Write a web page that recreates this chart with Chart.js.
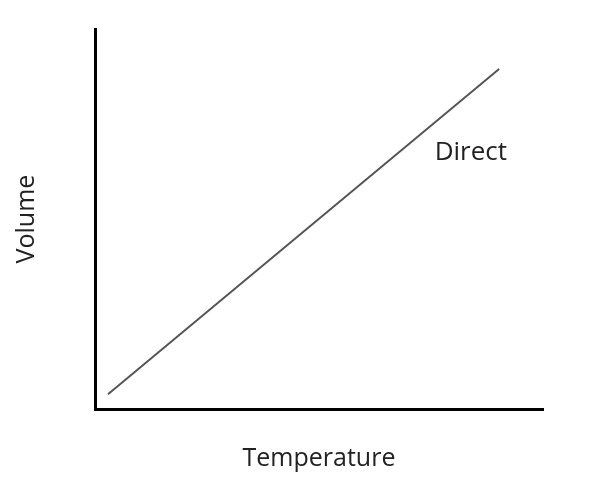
<!DOCTYPE html>
<html>
<head>
<meta charset="utf-8">
<script src="https://cdn.jsdelivr.net/npm/chart.js@4/dist/chart.umd.min.js"></script>
<style>
  html, body { margin: 0; padding: 0; background: #fff; }
  #wrap { width: 593px; height: 499px; }
</style>
</head>
<body>
<div id="wrap"><canvas id="myChart" width="593" height="499"></canvas></div>
<script>
//temperature / volume points of the line
var temperature = [2.9, 90.2];
var volume = [3.9, 89.5];

//label written next to the line
var lineLabel = "Direct";
var labelPos = [83.9, 67.6];

var xTitle = "Temperature";
var yTitle = "Volume";

var points = [];
for (var i = 0; i < temperature.length; i++) {
  points.push({ x: temperature[i], y: volume[i] });
}

//draws the "Direct" text at data coordinates
var labelPlugin = {
  id: "lineLabel",
  afterDatasetsDraw: function (chart) {
    var c = chart.ctx;
    var px = chart.scales.x.getPixelForValue(labelPos[0]);
    var py = chart.scales.y.getPixelForValue(labelPos[1]);
    c.save();
    c.fillStyle = "#222";
    c.font = "26px 'Open Sans'";
    c.textAlign = "center";
    c.textBaseline = "middle";
    c.fillText(lineLabel, px, py);
    c.restore();
  }
};

var ctx = document.getElementById("myChart");
var myChart = new Chart(ctx, {
  type: "scatter",
  data: {
    datasets: [{
      data: points,
      showLine: true,
      borderColor: "#555",
      borderWidth: 2,
      pointRadius: 0,
      fill: false
    }]
  },
  options: {
    responsive: false,
    animation: false,
    layout: { padding: { left: 12, right: 50, top: 29, bottom: 25 } },
    plugins: { legend: { display: false }, tooltip: { enabled: false } },
    scales: {
      x: {
        min: 0, max: 100,
        grid: { display: false },
        ticks: { display: false },
        border: { display: true, color: "#000", width: 3 },
        title: { display: true, text: xTitle, color: "#222", font: { family: "Open Sans", size: 25 }, padding: { top: 27, bottom: 0 } }
      },
      y: {
        min: 0, max: 100,
        grid: { display: false },
        ticks: { display: false },
        border: { display: true, color: "#000", width: 3 },
        title: { display: true, text: yTitle, color: "#222", font: { family: "Open Sans", size: 25 }, padding: { top: 0, bottom: 45 } }
      }
    }
  },
  plugins: [labelPlugin]
});
</script>
</body>
</html>
